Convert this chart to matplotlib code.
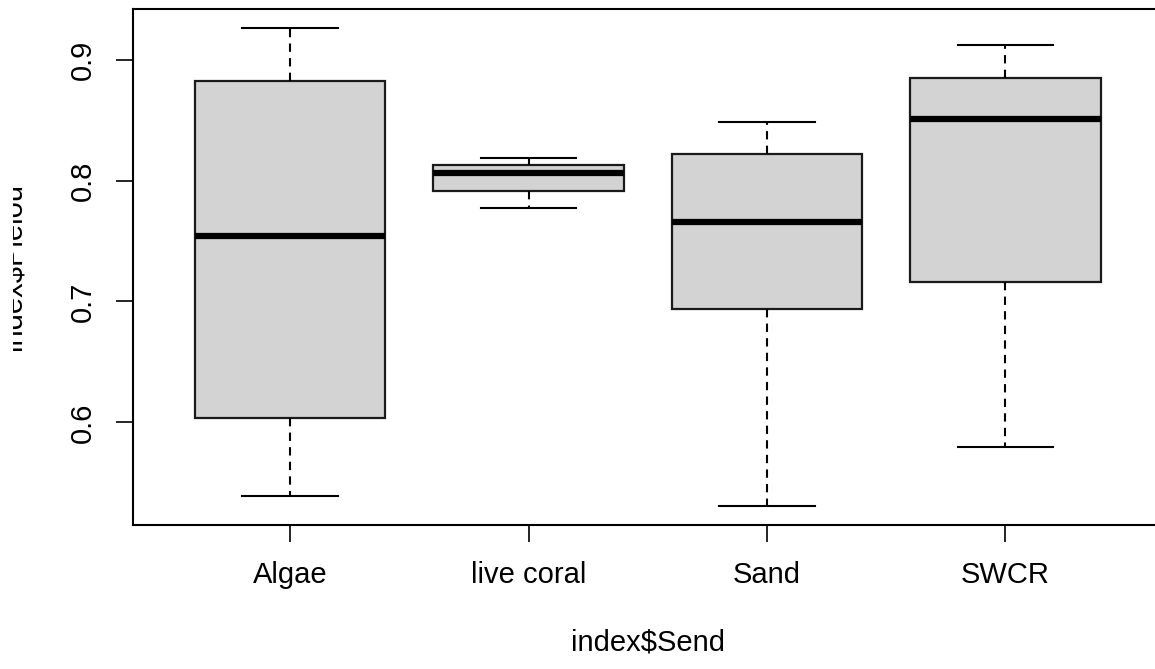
import matplotlib
matplotlib.use("Agg")
import matplotlib.pyplot as plt
from matplotlib.transforms import Bbox

# five-number summaries
groups = ["Algae", "live coral", "Sand", "SWCR"]
lower_whisker = [0.539, 0.777, 0.531, 0.580]
q1 = [0.604, 0.791, 0.694, 0.716]
median = [0.754, 0.806, 0.766, 0.851]
q3 = [0.882, 0.813, 0.822, 0.885]
upper_whisker = [0.926, 0.819, 0.848, 0.912]
yticks = [0.6, 0.7, 0.8, 0.9]

plt.rcParams["font.family"] = ["Liberation Sans", "DejaVu Sans"]
plt.rcParams["font.size"] = 21

stats = []
for i, name in enumerate(groups):
    stats.append({"label": name, "whislo": lower_whisker[i], "q1": q1[i],
                  "med": median[i], "q3": q3[i], "whishi": upper_whisker[i],
                  "fliers": []})

fig = plt.figure(figsize=(11.55, 6.69), dpi=100)
ax = fig.add_axes([132.6 / 1155, 144 / 669, 1030.3 / 1155, 516 / 669])

positions = list(range(1, len(groups) + 1))
ax.bxp(stats, positions=positions, widths=0.8, capwidths=0.4,
       patch_artist=True, showfliers=False,
       boxprops=dict(facecolor="#D3D3D3", edgecolor="#1a1a1a", linewidth=1.6),
       medianprops=dict(color="black", linewidth=4.5, solid_capstyle="butt"),
       whiskerprops=dict(color="black", linewidth=1.5, linestyle=(0, (4, 3))),
       capprops=dict(color="black", linewidth=1.5))

# R style limits: data range padded by 4%
lo, hi = min(lower_whisker), max(upper_whisker)
pad = 0.04 * (hi - lo)
ax.set_ylim(lo - pad, hi + pad)
ax.set_xlim(0.5 - 0.16, len(groups) + 0.5 + 0.16)

ax.set_xticks(positions)
ax.set_xticklabels(groups)
ax.set_yticks(yticks)
ax.set_yticklabels([str(t) for t in yticks], rotation=90, va="center")
ax.tick_params(axis="x", length=12, width=1.2, pad=14)
ax.tick_params(axis="y", length=12, width=1.2, pad=14)

for s in ax.spines.values():
    s.set_linewidth(1.5)

ax.set_xlabel("index$Send")
ax.xaxis.set_label_coords(0.5, -0.20)
ax.set_ylabel("index$Pielou")
ax.yaxis.set_label_coords(-0.1025, 0.5)
# the reference is cropped through the y label
ax.yaxis.label.set_clip_box(Bbox.from_extents(13, 0, 1155, 669))
ax.yaxis.label.set_clip_on(True)

fig.savefig("out.png", dpi=100)
